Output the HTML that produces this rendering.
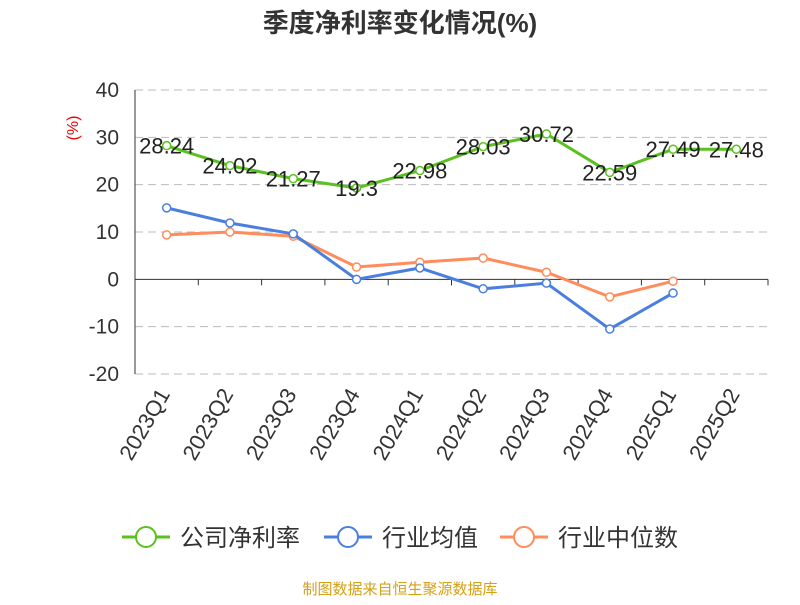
<!DOCTYPE html>
<html><head><meta charset="utf-8"><style>
body{margin:0;background:#fff;font-family:"Liberation Sans","Noto Sans CJK SC",sans-serif}
</style></head><body>
<svg width="800" height="600" id="c" xmlns="http://www.w3.org/2000/svg" font-family="Liberation Sans, Noto Sans CJK SC, sans-serif"></svg>
<script>
const categories=["2023Q1","2023Q2","2023Q3","2023Q4","2024Q1","2024Q2","2024Q3","2024Q4","2025Q1","2025Q2"];
const company=[28.24,24.02,21.27,19.3,22.98,28.03,30.72,22.59,27.49,27.48];
const industryAvg=[15.1,11.9,9.6,0,2.4,-2,-0.8,-10.5,-2.9,null];
const industryMed=[9.4,10,9.1,2.6,3.6,4.5,1.5,-3.7,-0.4,null];
const yTicks=[40,30,20,10,0,-10,-20];
const svg=document.getElementById('c');const NS='http://www.w3.org/2000/svg';
const x0=135,x1=768,yTop=90,yBot=374,yMax=40,yMin=-20;
const bw=(x1-x0)/categories.length;
const X=i=>x0+bw*(i+0.5);
const Y=v=>yTop+(yMax-v)/(yMax-yMin)*(yBot-yTop);
function el(t,a,txt){const e=document.createElementNS(NS,t);for(const k in a)e.setAttribute(k,a[k]);if(txt!=null)e.textContent=txt;svg.appendChild(e);return e;}
let e=el('text',{x:400,y:32,'text-anchor':'middle','font-size':26,'font-weight':'bold',fill:'#333'},'季度净利率变化情况(%)');


e=el('text',{x:78,y:128,'font-size':16,fill:'#e00','text-anchor':'middle',transform:'rotate(-90 78 128)'},'(%)');


yTicks.forEach(t=>{
 if(t!==0){e=el('line',{x1:x0,x2:x1,y1:Y(t),y2:Y(t),stroke:'#bbb','stroke-dasharray':'8,5'});
 
 }
 e=el('text',{x:x0-16,y:Y(t)+7,'text-anchor':'end','font-size':21,fill:'#333'},String(t));
 
 
});
e=el('line',{x1:x0,x2:x0,y1:yTop,y2:yBot,stroke:'#333'});


e=el('line',{x1:x0,x2:x1,y1:Y(0),y2:Y(0),stroke:'#333'});


for(let i=0;i<=categories.length;i++){e=el('line',{x1:x0+bw*i,x2:x0+bw*i,y1:Y(0),y2:Y(0)+6,stroke:'#333'});

}
categories.forEach((c,i)=>{const x=X(i)+4,y=394;
 e=el('text',{x:x,y:y,'text-anchor':'end','font-size':22,fill:'#333',transform:`rotate(-60 ${x} ${y})`},c);
 
 });
function series(vals,color,name,labels){
 const pts=vals.map((v,i)=>v==null?null:[X(i),Y(v)]).filter(p=>p);
 e=el('polyline',{points:pts.map(p=>p.join(',')).join(' '),fill:'none',stroke:color,'stroke-width':3});
 
 
 vals.forEach((v,i)=>{if(v==null)return;
  e=el('circle',{cx:X(i),cy:Y(v),r:4,fill:'#fff',stroke:color,'stroke-width':1.5});
  
  
  if(labels){e=el('text',{x:X(i),y:Y(v)+8,'text-anchor':'middle','font-size':22,fill:'#222'},String(v));
  
  }
 });
}
series(industryMed,'#ff8c5a','industry-median',false);
series(industryAvg,'#4a7fe0','industry-average',false);
series(company,'#5ac11f','company-net-margin',true);
const leg=[['公司净利率','#5ac11f',122],['行业均值','#4a7fe0',324],['行业中位数','#ff8c5a',500]];
leg.forEach(([t,c,x])=>{
 e=el('line',{x1:x,x2:x+48,y1:537,y2:537,stroke:c,'stroke-width':3});
 
 
 e=el('circle',{cx:x+24,cy:537,r:10,fill:'#fff',stroke:c,'stroke-width':2});
 
 
 e=el('text',{x:x+58,y:546,'font-size':24,fill:'#333'},t);
 
 
});
e=el('text',{x:400,y:594,'text-anchor':'middle','font-size':15,fill:'#d4a017'},'制图数据来自恒生聚源数据库');


</script>
</body></html>
